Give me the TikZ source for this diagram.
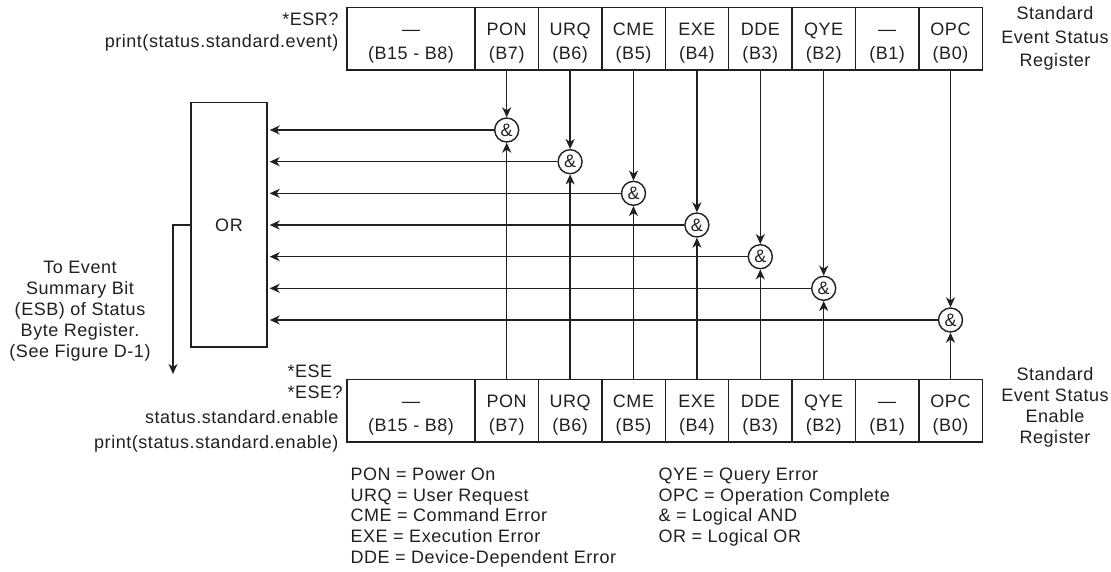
\documentclass[tikz,border=0pt]{standalone}
\usepackage{fontspec}
\setmainfont{Liberation Sans}[LetterSpace=3]
\usetikzlibrary{arrows.meta, positioning}
\definecolor{ink}{RGB}{35,31,32}

\begin{document}
\begin{tikzpicture}[x=1pt, y=-1pt,
every node/.style={font=\fontsize{18}{21}\selectfont, text=ink},
cell/.style={draw=ink, line width=1.4pt, minimum width=63.4pt, minimum height=62.6pt,
inner sep=0pt, align=center, font=\fontsize{18}{24}\selectfont},
wide/.style={cell, minimum width=128pt},
gate/.style={circle, draw=ink, line width=1.4pt, minimum size=24pt, inner sep=0pt},
arr/.style={-{Stealth[length=10pt, width=9pt, inset=3pt]}, draw=ink, line width=1.4pt},
legend/.style={align=left, font=\fontsize{18}{20.8}\selectfont}
]
\useasboundingbox (0,0) rectangle (1111,571);

% the two registers
\node[wide] (esrhi) at (411, 38.8) {\rule{0pt}{21pt}—\\(B15 - B8)};
\node[wide] (esehi) at (411, 410.5) {\rule{0pt}{21pt}—\\(B15 - B8)};
\foreach \name/\bit [count=\k from 0] in {PON/7, URQ/6, CME/5, EXE/4, DDE/3, QYE/2, —/1, OPC/0} {
  \node[cell] (esr\bit) at ({475+63.4*(\k+0.5)}, 38.8) {\rule{0pt}{21pt}\name\\(B\bit)};
  \node[cell] (ese\bit) at ({475+63.4*(\k+0.5)}, 410.5) {\rule{0pt}{21pt}\name\\(B\bit)};
}

\node[anchor=east, align=right, font=\fontsize{18}{22}\selectfont] (esrcmd) at (342, 32)
{*ESR?\\print(status.standard.event)};
\node[anchor=west, align=left] (esecmd) at (284, 382) {*ESE\\*ESE?};
\node[anchor=east, align=right, font=\fontsize{18}{25}\selectfont] (eseprint) at (342, 431)
{status.standard.enable\\print(status.standard.enable)};
\node[align=center, font=\fontsize{18}{23.5}\selectfont] (esrname) at (1055, 38.5)
{Standard\\Event Status\\Register};
\node[align=center] (esename) at (1055, 407)
{Standard\\Event Status\\Enable\\Register};

% OR gate and summary output
\node[draw=ink, line width=1.4pt, minimum width=76pt, minimum height=244.5pt] (orbox) at (229, 224.8) {OR};
\coordinate (esb) at (173, 374);
\draw[arr] (orbox.west) -| (esb);
\node[align=center] (esbnote) at (80, 311)
{To Event\\Summary Bit\\(ESB) of Status\\Byte Register.\\(See Figure D-1)};

% AND gates
\foreach \bit/\y in {7/130, 6/161.7, 5/193.3, 4/225, 3/256.7, 2/288.3, 0/320} {
  \node[gate] (and\bit) at (esr\bit |- 0,\y) {\&};
  \draw[arr] (esr\bit) -- (and\bit);
  \draw[arr] (ese\bit) -- (and\bit);
  \draw[arr, shorten >=2pt] (and\bit) -- (and\bit -| orbox.east);
}

% legend
\node[legend, anchor=west] (legendA) at (347, 517.5)
{PON = Power On\\URQ = User Request\\CME = Command Error\\EXE = Execution Error\\DDE = Device-Dependent Error};
\node[legend, anchor=north west] (legendB) at (legendA.north west -| 655,0)
{QYE = Query Error\\OPC = Operation Complete\\\& = Logical AND\\OR = Logical OR};
\end{tikzpicture}
\end{document}
